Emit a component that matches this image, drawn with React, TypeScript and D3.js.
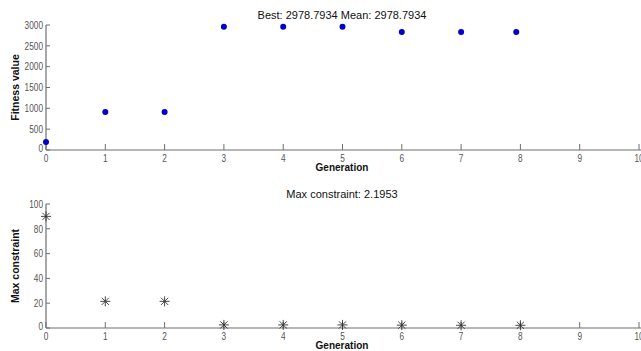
import React from "react";
import * as d3 from "d3";

const generations = [0, 1, 2, 3, 4, 5, 6, 7, 7.93];
const fitnessValues = [190, 910, 910, 2960, 2960, 2960, 2830, 2830, 2830];
const constraintGens = [0, 1, 2, 3, 4, 5, 6, 7, 8];
const constraintValues = [90, 21.5, 21.5, 2.5, 2.5, 2.5, 2.3, 2.2, 2.2];
const xTicks = [0, 1, 2, 3, 4, 5, 6, 7, 8, 9, 10];
const fitnessTicks = [0, 500, 1000, 1500, 2000, 2500, 3000];
const constraintTicks = [0, 20, 40, 60, 80, 100];
const title1 = "Best: 2978.7934 Mean: 2978.7934";
const title2 = "Max constraint: 2.1953";

const W = 641, H = 351;
const FONT = "'Liberation Sans', Arial, sans-serif";
const AX = "#6e6e6e";
const TXT = "#555";

function Num({ x, y, anchor, children }: any) {
  const s = String(children);
  return (
    <text x={x} y={y} fontSize={10.5} fill={TXT} textAnchor={anchor} fontFamily={FONT}
      textLength={s.length * 4.6} lengthAdjust="spacingAndGlyphs">{s}</text>
  );
}

function Panel({ top, bottom, yDomain, yTicks, yLabel, title, children }: any) {
  const x = d3.scaleLinear().domain([0, 10]).range([46, 639]);
  const y = d3.scaleLinear().domain(yDomain).range([bottom, top]);
  return (
    <g>
      <line x1={46} x2={W} y1={bottom} y2={bottom} stroke={AX} strokeWidth={1.2} />
      <line x1={46} x2={46} y1={top} y2={bottom} stroke={AX} strokeWidth={1.2} />
      {xTicks.map((t) => (
        <g key={"x" + t}>
          <line x1={x(t)} x2={x(t)} y1={bottom} y2={bottom - 6} stroke={AX} strokeWidth={1} />
          <Num x={x(t)} y={bottom + 11.5} anchor="middle">{t}</Num>
        </g>
      ))}
      {yTicks.map((t: number) => (
        <g key={"y" + t}>
          <line x1={46} x2={50} y1={y(t)} y2={y(t)} stroke={AX} strokeWidth={1} />
          <Num x={43} y={y(t) + (t === 0 ? 2 : 3.8)} anchor="end">{t}</Num>
        </g>
      ))}
      <text x={342} y={bottom + 21} fontSize={10} fontWeight="bold" textAnchor="middle" fontFamily={FONT} fill="#111">Generation</text>
      <text transform={`translate(19,${(top + bottom) / 2}) rotate(-90)`} fontSize={10.5} fontWeight="bold" textAnchor="middle" fontFamily={FONT} fill="#111">{yLabel}</text>
      <text x={342} y={top - 6.5} fontSize={11} textAnchor="middle" fontFamily={FONT} fill="#111">{title}</text>
      {children(x, y)}
    </g>
  );
}

export default function App() {
  return (
    <svg width={W} height={H} style={{ position: "absolute", left: 0, top: 0, background: "#fff" }}>
      <rect width={W} height={H} fill="#fff" />
      <Panel top={25} bottom={150} yDomain={[0, 3000]} yTicks={fitnessTicks} yLabel="Fitness value" title={title1}>
        {(x: any, y: any) =>
          generations.map((g, i) => (
            <circle key={i} cx={x(g)} cy={y(fitnessValues[i])} r={3} fill="#0000c8" />
          ))
        }
      </Panel>
      <Panel top={204} bottom={328} yDomain={[0, 100]} yTicks={constraintTicks} yLabel="Max constraint" title={title2}>
        {(x: any, y: any) =>
          constraintGens.map((g, i) => {
            const cx = x(g), cy = y(constraintValues[i]);
            const s = 5, d = 3.6;
            return (
              <g key={i} stroke="#333" strokeWidth={0.9}>
                <line x1={cx - s} x2={cx + s} y1={cy} y2={cy} />
                <line x1={cx} x2={cx} y1={cy - s} y2={cy + s} />
                <line x1={cx - d} x2={cx + d} y1={cy - d} y2={cy + d} />
                <line x1={cx - d} x2={cx + d} y1={cy + d} y2={cy - d} />
              </g>
            );
          })
        }
      </Panel>
    </svg>
  );
}
